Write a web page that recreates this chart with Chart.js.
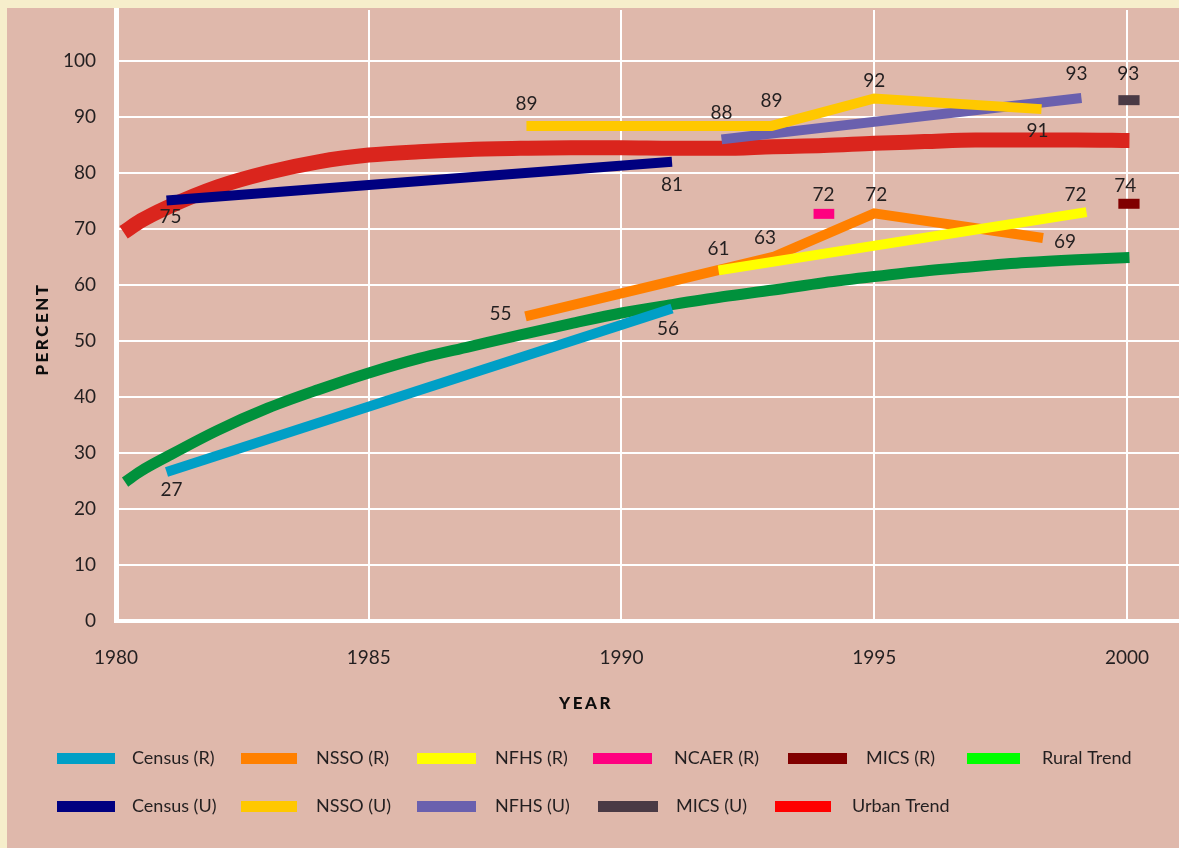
<!DOCTYPE html>
<html><head><meta charset="utf-8">
<script src="https://cdn.jsdelivr.net/npm/chart.js@4.4.1/dist/chart.umd.min.js"></script>
<style>
html,body{margin:0;padding:0;background:#f6eecb;width:1179px;height:848px;overflow:hidden;}
#wrap{position:absolute;left:7px;top:8px;width:1172px;height:840px;background:#dfb8ab;}
canvas{display:block;}
</style></head><body>
<div id="wrap"><canvas id="c" width="1172" height="840"></canvas></div>
<script>
// ---------------- DATA ----------------
const censusR_x = [1981, 1991];
const censusR_y = [26.6, 55.8];
const censusR_lbl = ['27', '56'];

const nssoR_x = [1988.1, 1993.0, 1995.0, 1998.34];
const nssoR_y = [54.4, 65.0, 72.8, 68.4];
const nssoR_lbl = ['55', '63', '72', '69'];

const nfhsR_x = [1991.92, 1999.2];
const nfhsR_y = [62.6, 73.0];
const nfhsR_lbl = ['61', '72'];

const ncaerR_x = [1993.8, 1994.21];
const ncaerR_y = [72.7, 72.7];
const ncaerR_lbl = ['72', null];

const micsR_x = [1999.83, 2000.25];
const micsR_y = [74.5, 74.5];
const micsR_lbl = ['74', null];

const ruralTrend_x = [1980.18, 1980.5, 1981, 1982, 1983, 1984, 1985, 1986, 1987, 1988, 1989, 1990, 1991, 1992, 1993, 1994, 1995, 1996, 1997, 1998, 1999, 2000.05];
const ruralTrend_y = [24.8, 26.8, 29.3, 34.0, 38.0, 41.3, 44.3, 46.9, 49.0, 51.1, 53.1, 55.0, 56.5, 57.9, 59.1, 60.4, 61.5, 62.5, 63.3, 64.0, 64.5, 64.9];

const censusU_x = [1981, 1991];
const censusU_y = [75.1, 82.0];
const censusU_lbl = ['75', '81'];

const nssoU_x = [1988.12, 1992.97, 1995.0, 1998.31];
const nssoU_y = [88.4, 88.4, 93.3, 91.4];
const nssoU_lbl = ['89', '89', '92', '91'];

const nfhsU_x = [1991.98, 1999.1];
const nfhsU_y = [86.0, 93.4];
const nfhsU_lbl = ['88', '93'];

const micsU_x = [1999.83, 2000.25];
const micsU_y = [93.0, 93.0];
const micsU_lbl = ['93', null];

const urbanTrend_x = [1980.15, 1980.5, 1981, 1982, 1983, 1984, 1985, 1986, 1987, 1988, 1989, 1990, 1991, 1992, 1993, 1994, 1995, 1996, 1997, 1998, 1999, 2000.05];
const urbanTrend_y = [69.4, 71.5, 73.8, 77.5, 80.1, 82.0, 83.2, 83.8, 84.2, 84.4, 84.5, 84.5, 84.4, 84.4, 84.7, 84.9, 85.3, 85.6, 85.9, 85.9, 85.9, 85.8];

const xTickValues = [1980, 1985, 1990, 1995, 2000];
const yTickValues = [0, 10, 20, 30, 40, 50, 60, 70, 80, 90, 100];

// ---------------- STYLE ----------------
const TEXT = '#231f20';
const FONT = 'Lato, "Noto Sans", sans-serif';
const pts = (xs, ys) => xs.map((x, i) => ({x, y: ys[i]}));

function line(label, xs, ys, lbls, color, opts) {
  return Object.assign({
    label, data: pts(xs, ys), pointLabels: lbls,
    borderColor: color, backgroundColor: color, legendColor: color,
    borderWidth: 10, pointRadius: 0, pointHoverRadius: 0, fill: false,
    borderCapStyle: 'butt', borderJoinStyle: 'miter', tension: 0
  }, opts || {});
}

const datasets = [
  line('Census (R)', censusR_x, censusR_y, censusR_lbl, '#009fc6', {order: 5}),
  line('NSSO (R)', nssoR_x, nssoR_y, nssoR_lbl, '#ff8000', {order: 4}),
  line('NFHS (R)', nfhsR_x, nfhsR_y, nfhsR_lbl, '#ffff00', {order: 3}),
  line('NCAER (R)', ncaerR_x, ncaerR_y, ncaerR_lbl, '#ff0080', {order: 2}),
  line('MICS (R)', micsR_x, micsR_y, micsR_lbl, '#800000', {order: 2}),
  line('Rural Trend', ruralTrend_x, ruralTrend_y, null, '#00913c', {order: 10, borderWidth: 11, legendColor: '#00ff00', cubicInterpolationMode: 'monotone'}),
  line('Census (U)', censusU_x, censusU_y, censusU_lbl, '#000080', {order: 5}),
  line('NSSO (U)', nssoU_x, nssoU_y, nssoU_lbl, '#ffc800', {order: 3}),
  line('NFHS (U)', nfhsU_x, nfhsU_y, nfhsU_lbl, '#6a60ae', {order: 4}),
  line('MICS (U)', micsU_x, micsU_y, micsU_lbl, '#4a3a45', {order: 2}),
  line('Urban Trend', urbanTrend_x, urbanTrend_y, null, '#da251d', {order: 11, borderWidth: 15, legendColor: '#ff0000', cubicInterpolationMode: 'monotone'})
];

// label offsets (px) relative to the labelled point
const labelOffsets = {
  'Census (R)': [[5, 18], [-4, 20]],
  'NSSO (R)': [[-25, -2], [-8, -19], [2, -18], [22, 4]],
  'NFHS (R)': [[0, -22], [-11, -17]],
  'NCAER (R)': [[10, -19]],
  'MICS (R)': [[7, -18]],
  'Census (U)': [[4, 16], [0, 23]],
  'NSSO (U)': [[0, -22], [0, -25], [0, -18], [-4, 22]],
  'NFHS (U)': [[0, -26], [-5, -24]],
  'MICS (U)': [[10, -26]]
};

// legend layout (canvas px): row, swatch x, swatch width, text x
const legendLayout = {
  'Census (R)': [0, 50, 58, 125],
  'NSSO (R)': [0, 234, 56, 309],
  'NFHS (R)': [0, 410, 59, 488],
  'NCAER (R)': [0, 586, 59, 667],
  'MICS (R)': [0, 781, 59, 859],
  'Rural Trend': [0, 960, 53, 1035],
  'Census (U)': [1, 50, 58, 125],
  'NSSO (U)': [1, 234, 56, 309],
  'NFHS (U)': [1, 410, 59, 488],
  'MICS (U)': [1, 591, 60, 669],
  'Urban Trend': [1, 768, 56, 845]
};
const legendRowY = [750, 798];

const decor = {
  id: 'decor',
  afterDatasetsDraw(chart) {
    const ctx = chart.ctx;
    ctx.save();
    ctx.font = '19px ' + FONT;
    ctx.fillStyle = TEXT;
    ctx.textAlign = 'center';
    ctx.textBaseline = 'middle';
    chart.data.datasets.forEach((ds, di) => {
      const offs = labelOffsets[ds.label];
      if (!ds.pointLabels || !offs) return;
      const meta = chart.getDatasetMeta(di);
      ds.pointLabels.forEach((t, i) => {
        if (t == null || !offs[i]) return;
        const p = meta.data[i];
        ctx.fillText(t, p.x + offs[i][0], p.y + offs[i][1]);
      });
    });
    ctx.restore();
  },
  afterDraw(chart) {
    const ctx = chart.ctx;
    ctx.save();
    // axis titles
    ctx.fillStyle = '#0d0d0d';
    ctx.font = '900 17px ' + FONT;
    ctx.textAlign = 'center';
    ctx.textBaseline = 'middle';
    try { ctx.letterSpacing = '2.5px'; } catch (e) {}
    ctx.fillText('YEAR', 579, 696);
    ctx.save();
    ctx.translate(36, 321);
    ctx.rotate(-Math.PI / 2);
    ctx.fillText('PERCENT', 0, 0);
    ctx.restore();
    try { ctx.letterSpacing = '0px'; } catch (e) {}
    // legend
    ctx.font = '18px ' + FONT;
    ctx.textAlign = 'left';
    chart.data.datasets.forEach(ds => {
      const L = legendLayout[ds.label];
      if (!L) return;
      const y = legendRowY[L[0]];
      ctx.fillStyle = ds.legendColor;
      ctx.fillRect(L[1], y - 5, L[2], 11);
      ctx.fillStyle = TEXT;
      ctx.fillText(ds.label, L[3], y);
    });
    ctx.restore();
  }
};

new Chart(document.getElementById('c'), {
  type: 'line',
  data: {datasets},
  plugins: [decor],
  options: {
    responsive: false,
    animation: false,
    events: [],
    layout: {padding: {top: 2, right: 0, bottom: 127, left: 0}},
    plugins: {legend: {display: false}, tooltip: {enabled: false}},
    scales: {
      x: {
        type: 'linear', min: 1980, max: 2001.03, offset: false,
        afterBuildTicks: s => { s.ticks = xTickValues.map(v => ({value: v})); },
        afterFit: s => { s.height = 100; s.paddingLeft = 0; s.paddingRight = 0; },
        ticks: {color: TEXT, font: {family: FONT, size: 19}, padding: 25, maxRotation: 0, callback: v => String(v)},
        grid: {color: '#ffffff', lineWidth: 2, drawTicks: false},
        border: {color: '#ffffff', width: 4}
      },
      y: {
        type: 'linear', min: 0, max: 109.1,
        afterBuildTicks: s => { s.ticks = yTickValues.map(v => ({value: v})); },
        afterFit: s => { s.width = 109; s.paddingTop = 0; s.paddingBottom = 0; },
        ticks: {color: TEXT, font: {family: FONT, size: 19}, padding: 20},
        grid: {color: '#ffffff', lineWidth: 2, drawTicks: false},
        border: {color: '#ffffff', width: 5}
      }
    }
  }
});
</script>
</body></html>
